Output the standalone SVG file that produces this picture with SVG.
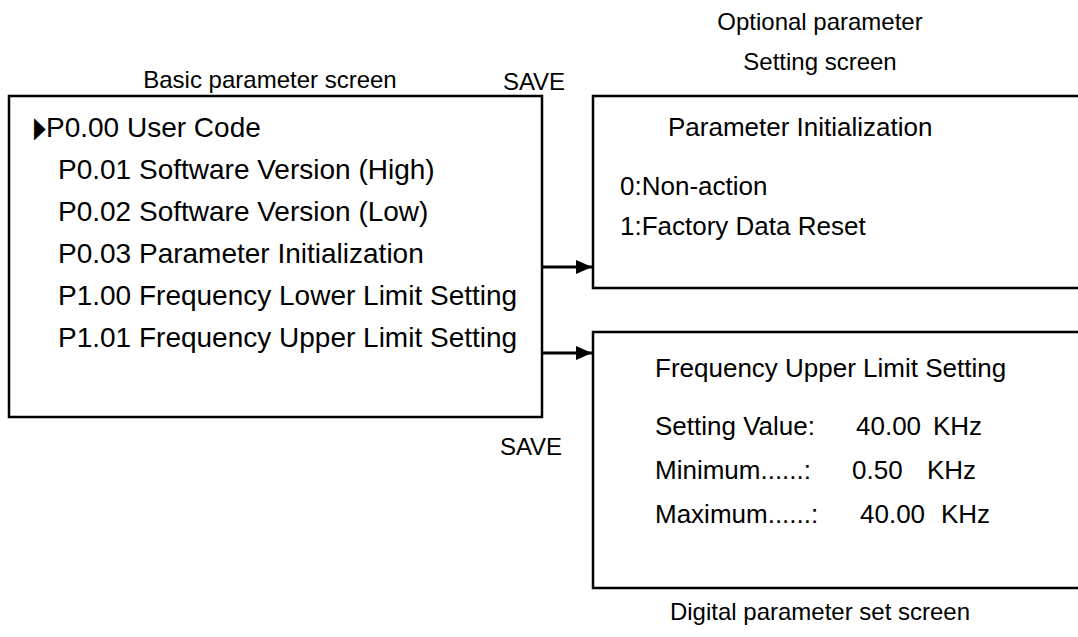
<svg xmlns="http://www.w3.org/2000/svg" width="1078" height="637" viewBox="0 0 1078 637">
<style>
text{font-family:"Liberation Sans",Arial,sans-serif;fill:#000}
.t{font-size:28px}
.h{font-size:24px}
.s{font-size:26px}
.box{fill:#fff;stroke:#000;stroke-width:2.5}
.conn{stroke:#000;stroke-width:3;fill:none}
</style>
<defs>
<marker id="arr" markerWidth="16" markerHeight="14" refX="16" refY="7" orient="auto" markerUnits="userSpaceOnUse" viewBox="0 0 16 14">
<path d="M0,0 L16,7 L0,14 Z" fill="#000"/>
</marker>
</defs>
<rect width="1078" height="637" fill="#fff"/>
<g id="labels">
<text class="h" x="270" y="88" text-anchor="middle">Basic parameter screen</text>
<text class="h" x="820" y="30" text-anchor="middle">Optional parameter</text>
<text class="h" x="820" y="70" text-anchor="middle">Setting screen</text>
<text class="h" x="534" y="90" text-anchor="middle">SAVE</text>
<text class="h" x="531" y="455" text-anchor="middle">SAVE</text>
<text class="h" x="820" y="620" text-anchor="middle">Digital parameter set screen</text>
</g>
<g id="basic">
<rect class="box" x="9" y="96" width="533" height="321"/>
<text class="t" transform="translate(34,137) scale(0.55,1.05)">▶</text>
<text class="t" x="46" y="137">P0.00 User Code</text>
<text class="t" x="58" y="179">P0.01 Software Version (High)</text>
<text class="t" x="58" y="221">P0.02 Software Version (Low)</text>
<text class="t" x="58" y="263">P0.03 Parameter Initialization</text>
<text class="t" x="58" y="305">P1.00 Frequency Lower Limit Setting</text>
<text class="t" x="58" y="347">P1.01 Frequency Upper Limit Setting</text>
</g>
<g id="optional">
<rect class="box" x="593" y="96" width="500" height="192"/>
<text class="s" x="668" y="136">Parameter Initialization</text>
<text class="s" x="620" y="195">0:Non-action</text>
<text class="s" x="620" y="235">1:Factory Data Reset</text>
</g>
<g id="digital">
<rect class="box" x="593" y="332" width="500" height="256"/>
<text class="s" x="655" y="377">Frequency Upper Limit Setting</text>
<text class="s" x="655" y="435">Setting Value:</text><text class="s" x="856" y="435">40.00</text><text class="s" x="933" y="435">KHz</text>
<text class="s" x="655" y="479">Minimum......:</text><text class="s" x="852" y="479">0.50</text><text class="s" x="927" y="479">KHz</text>
<text class="s" x="655" y="523">Maximum......:</text><text class="s" x="860" y="523">40.00</text><text class="s" x="941" y="523">KHz</text>
</g>
<g id="connectors">
<line class="conn" x1="542" y1="267" x2="592" y2="267" marker-end="url(#arr)"/>
<line class="conn" x1="542" y1="353" x2="592" y2="353" marker-end="url(#arr)"/>
</g>
</svg>
